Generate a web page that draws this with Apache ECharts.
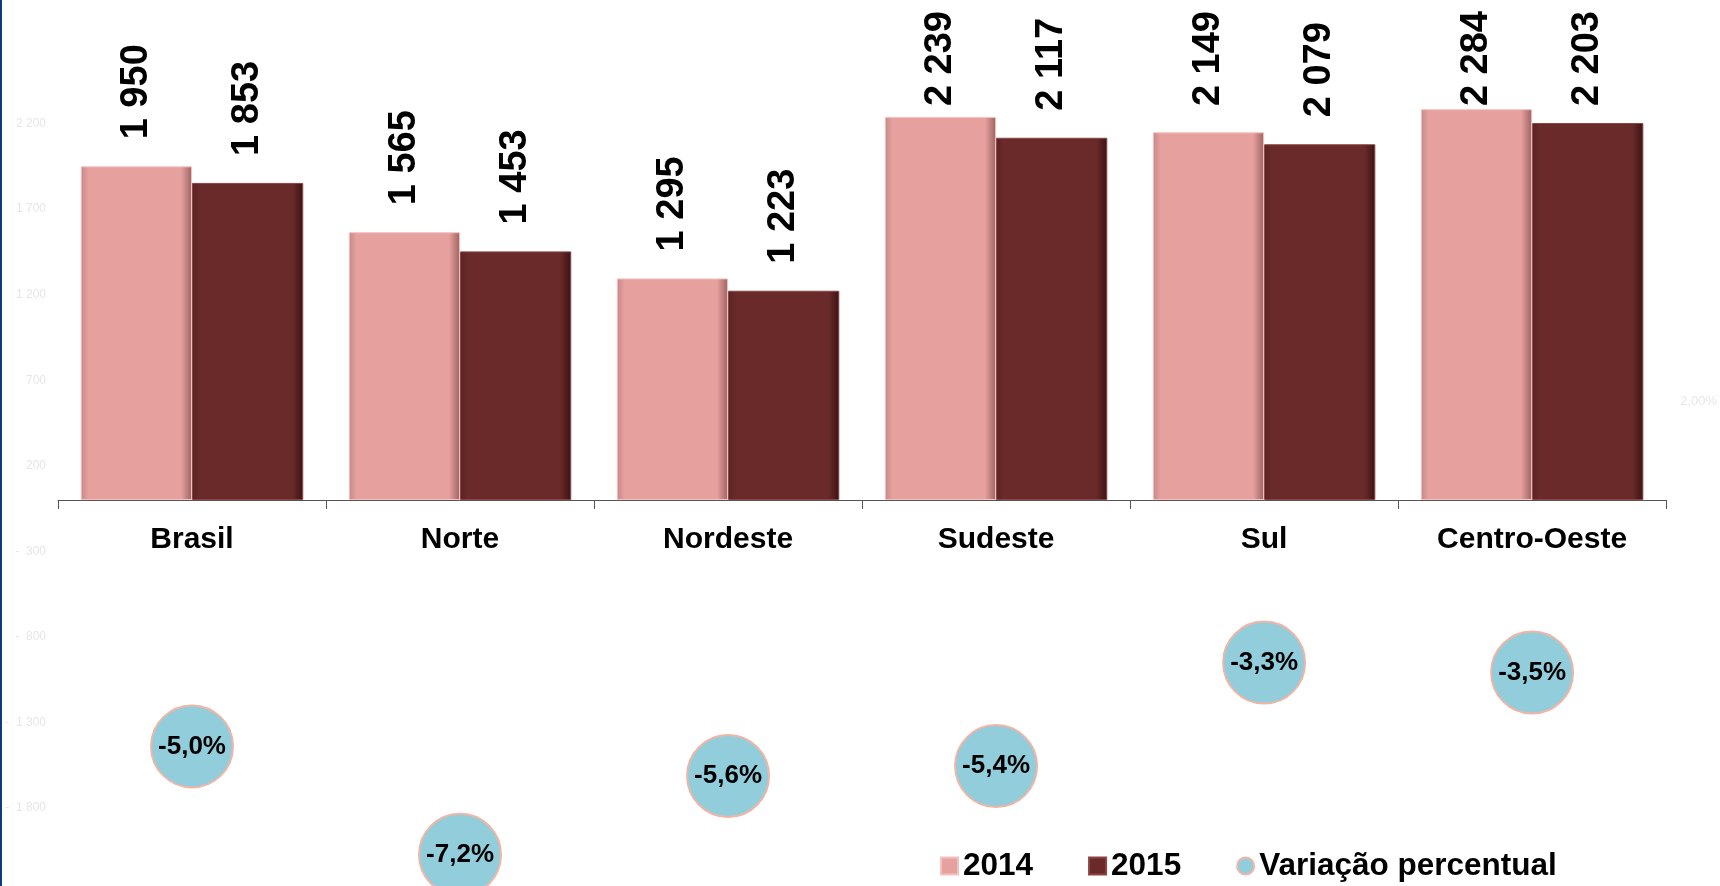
<!DOCTYPE html>
<html>
<head>
<meta charset="utf-8">
<script src="https://cdn.jsdelivr.net/npm/echarts@6/dist/echarts.min.js"></script>
<style>
  html, body { margin: 0; padding: 0; background: #fff; }
  #chart { width: 1720px; height: 886px; }
</style>
</head>
<body>
<div id="chart"></div>
<script>
var regioes = ['Brasil', 'Norte', 'Nordeste', 'Sudeste', 'Sul', 'Centro-Oeste'];
var valores2014 = [1950, 1565, 1295, 2239, 2149, 2284];
var valores2015 = [1853, 1453, 1223, 2117, 2079, 2203];
var variacao = [-5.0, -7.2, -5.6, -5.4, -3.3, -3.5];

var fonte = "'Liberation Sans', Arial, sans-serif";

function milhar(v) {
    var s = Math.abs(v).toString().replace(/\B(?=(\d{3})+(?!\d))/g, ' ');
    return v < 0 ? '-  ' + s : s;
}

function bevel(escuro, base, claro) {
    return new echarts.graphic.LinearGradient(0, 0, 1, 0, [
        {offset: 0, color: claro},
        {offset: 0.07, color: base},
        {offset: 0.9, color: base},
        {offset: 1, color: escuro}
    ]);
}

// Excel keeps the rotated value labels inside the plot area.
// The offset works in the label's rotated frame: -dx moves it down.
function manterDentro(p) {
    var topo = 11;
    if (p.labelRect.y < topo) {
        return {dx: p.labelRect.y - topo};
    }
    return {};
}

var rotuloBarra = {
    show: true,
    position: 'top',
    distance: 27,
    rotate: 90,
    align: 'left',
    verticalAlign: 'middle',
    fontSize: 38,
    fontWeight: 'bold',
    color: '#000',
    fontFamily: fonte,
    formatter: function (p) { return milhar(p.value); }
};

var myChart = echarts.init(document.getElementById('chart'));
var option = {
    animation: false,
    textStyle: {fontFamily: fonte},
    graphic: [{
        type: 'rect',
        left: 0, top: 0,
        shape: {width: 2, height: 886},
        style: {fill: '#0d3c7c'}
    }],
    grid: {left: 58, right: 51, top: 38, bottom: 78},
    legend: {
        left: 935,
        top: 845,
        itemWidth: 17,
        itemHeight: 17,
        itemGap: 55,
        textStyle: {fontSize: 31.5, fontWeight: 'bold', color: '#000', fontFamily: fonte},
        data: [
            {name: '2014', icon: 'rect'},
            {name: '2015', icon: 'rect'},
            {name: 'Variação percentual', icon: 'circle'}
        ]
    },
    xAxis: {
        type: 'category',
        data: regioes,
        offset: -308,
        axisLine: {onZero: false, lineStyle: {color: '#555', width: 1}},
        axisTick: {show: true, length: 9, lineStyle: {color: '#555'}},
        axisLabel: {fontSize: 30, fontWeight: 'bold', color: '#000', margin: 25, fontFamily: fonte}
    },
    yAxis: [{
        type: 'value',
        min: -1800,
        max: 2700,
        interval: 500,
        splitLine: {show: false},
        axisLine: {show: false},
        axisTick: {show: false},
        axisLabel: {
            showMaxLabel: false,
            fontSize: 12,
            color: '#e6e6e6',
            margin: 12,
            formatter: milhar
        }
    }, {
        type: 'value',
        min: -6.25,
        max: 9.375,
        interval: 0.25,
        splitLine: {show: false},
        axisLine: {show: false},
        axisTick: {show: false},
        axisLabel: {
            fontSize: 13,
            color: '#e6e6e6',
            margin: 14,
            formatter: function (v) {
                return Math.abs(v - 2) < 1e-6 ? '2,00%' : '';
            }
        }
    }],
    series: [{
        name: '2014',
        type: 'bar',
        data: valores2014,
        barGap: 0,
        barCategoryGap: '17%',
        itemStyle: {
            color: bevel('#9c6261', '#e6a19f', '#c48886'),
            borderColor: '#f2c2c0',
            borderWidth: 1
        },
        label: rotuloBarra,
        labelLayout: manterDentro
    }, {
        name: '2015',
        type: 'bar',
        data: valores2015,
        itemStyle: {
            color: bevel('#3a1313', '#6b2a2a', '#5a2222'),
            borderColor: '#8a4444',
            borderWidth: 1
        },
        label: rotuloBarra,
        labelLayout: manterDentro
    }, {
        name: 'Variação percentual',
        type: 'scatter',
        yAxisIndex: 1,
        clip: false,
        data: variacao,
        symbol: 'circle',
        symbolSize: 82,
        itemStyle: {
            color: '#92cddc',
            borderColor: '#f0b5a6',
            borderWidth: 2,
            opacity: 1
        },
        label: {
            show: true,
            position: 'inside',
            fontSize: 26,
            fontWeight: 'bold',
            color: '#000',
            fontFamily: fonte,
            formatter: function (p) { return p.value.toFixed(1).replace('.', ',') + '%'; }
        }
    }]
};
myChart.setOption(option);
</script>
</body>
</html>
